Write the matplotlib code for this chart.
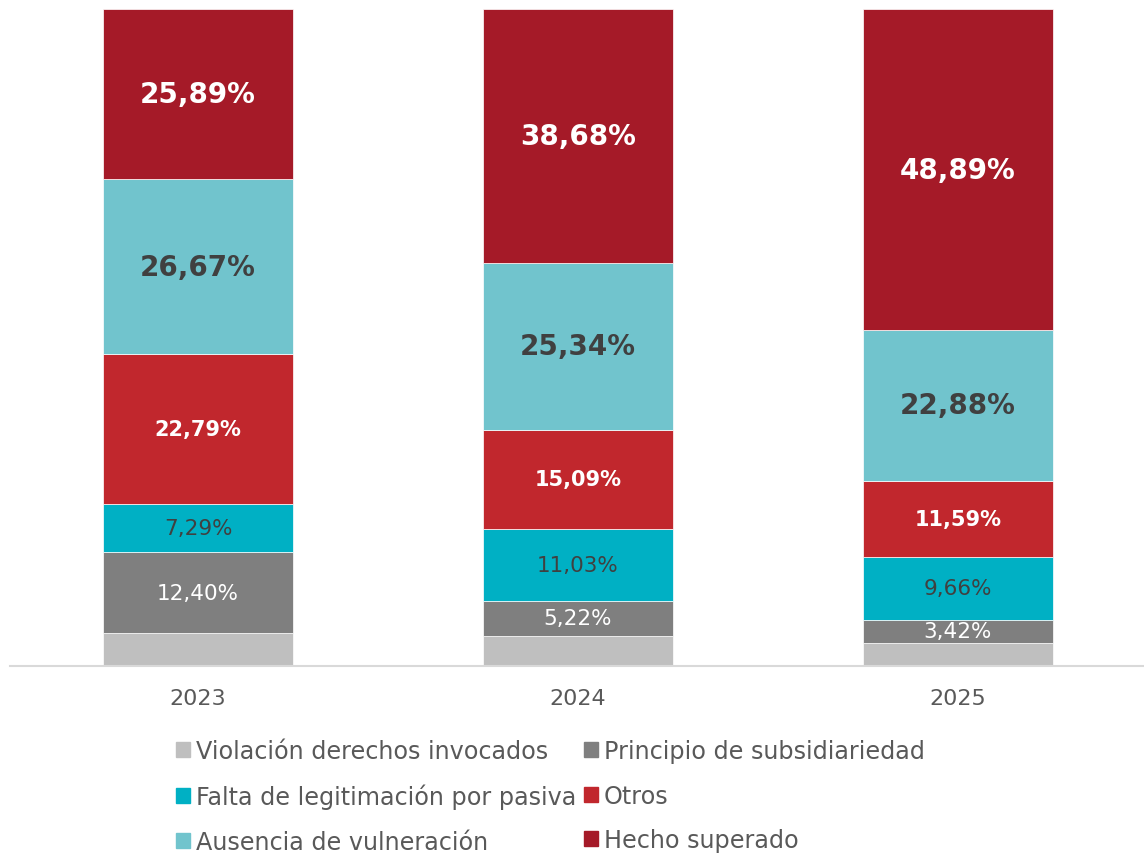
import matplotlib.pyplot as plt
import numpy as np
from matplotlib.patches import Patch

plt.rcParams['font.family'] = ['DejaVu Sans']

years = ['2023', '2024', '2025']
categorias = ['Violación derechos invocados', 'Principio de subsidiariedad',
              'Falta de legitimación por pasiva', 'Otros',
              'Ausencia de vulneración', 'Hecho superado']
violacion = [4.96, 4.64, 3.56]
principio = [12.40, 5.22, 3.42]
falta = [7.29, 11.03, 9.66]
otros = [22.79, 15.09, 11.59]
ausencia = [26.67, 25.34, 22.88]
hecho = [25.89, 38.68, 48.89]

series = [violacion, principio, falta, otros, ausencia, hecho]
colores = ['#BFBFBF', '#7F7F7F', '#00B0C4', '#C1272D', '#71C4CD', '#A51A28']
# estilo de etiqueta por serie: (mostrar, color, tamaño, negrita)
etiquetas = [
    (False, None, 0, 'normal'),
    (True, 'white', 15.5, 'normal'),
    (True, '#404040', 15.5, 'normal'),
    (True, 'white', 15, 'bold'),
    (True, '#404040', 20, 'bold'),
    (True, 'white', 20, 'bold'),
]

fig = plt.figure(figsize=(11.44, 8.54), dpi=100)
ax = fig.add_axes([10 / 1144, 1 - 667 / 854, 1 - 10 / 1144, (667 - 10) / 854])

x = np.arange(len(years))
bottom = np.zeros(len(years))
for vals, col, (show, tc, fs, fw) in zip(series, colores, etiquetas):
    vals = np.array(vals)
    ax.bar(x, vals, 0.5, bottom=bottom, color=col, edgecolor='white', linewidth=0.5)
    if show:
        for xi, b, v in zip(x, bottom, vals):
            ax.text(xi, b + v / 2, f'{v:.2f}%'.replace('.', ','), ha='center', va='center',
                    color=tc, fontsize=fs, fontweight=fw)
    bottom += vals

ax.set_xlim(-0.495, 2.49)
ax.set_ylim(0, 100)
ax.set_xticks(x)
ax.set_xticklabels(years, fontsize=16, color='#595959')
ax.tick_params(axis='x', length=0, pad=16)
ax.set_yticks([])
for s in ['top', 'right', 'left']:
    ax.spines[s].set_visible(False)
ax.spines['bottom'].set_color('#D9D9D9')
ax.spines['bottom'].set_linewidth(1.5)

# orden de columnas de la leyenda (ncol=2 llena por columnas)
orden = [0, 2, 4, 1, 3, 5]
handles = [Patch(color=colores[i], label=categorias[i]) for i in orden]
fig.legend(handles=handles, loc='upper left', bbox_to_anchor=(176 / 1144, 1 - 740 / 854),
           ncol=2, frameon=False, fontsize=17.2, labelcolor='#595959',
           handlelength=0.6, handleheight=0.6, handletextpad=0.25,
           columnspacing=0.3, labelspacing=0.86, borderaxespad=0, borderpad=0)

fig.savefig('out.png', dpi=100)
